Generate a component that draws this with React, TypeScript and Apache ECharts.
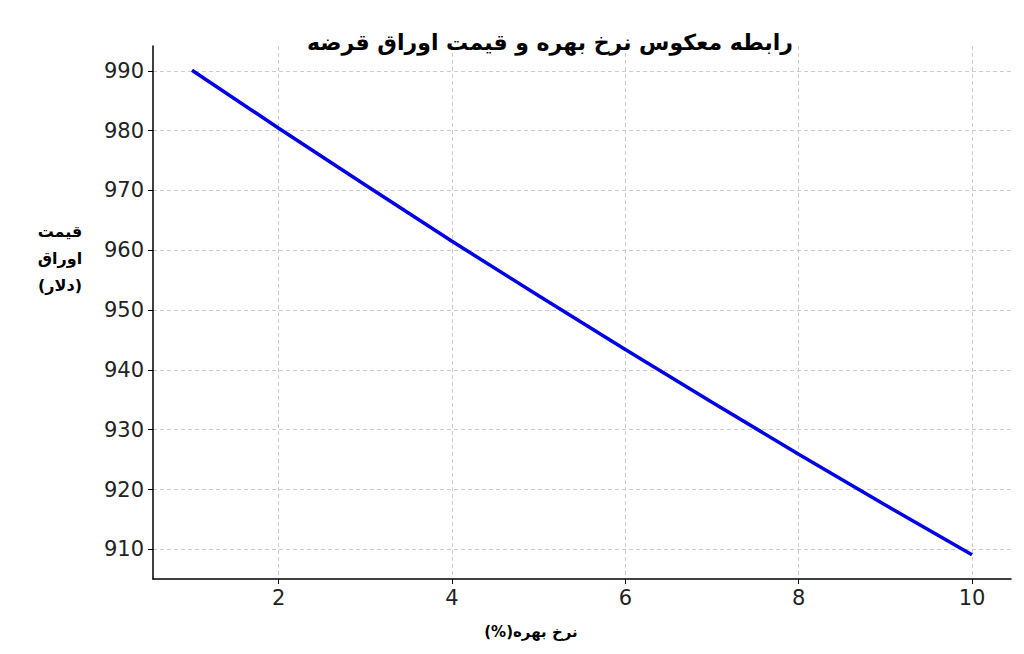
import React, { useEffect, useRef } from 'react';
import * as echarts from 'echarts';

// interest rate (%) and bond price (dollars)
const rates = [1, 2, 3, 4, 5, 6, 7, 8, 9, 10];
const prices = [990.1, 980.4, 970.9, 961.5, 952.4, 943.4, 934.6, 925.9, 917.4, 909.1];
const xTicks = [2, 4, 6, 8, 10];
const yTicks = [910, 920, 930, 940, 950, 960, 970, 980, 990];

const titleText = 'رابطه معکوس نرخ بهره و قیمت اوراق قرضه';
const xName = '(%)نرخ بهره';
const yName = 'قیمت\nاوراق\n(دلار)';

const App: React.FC = () => {
  const chartRef = useRef<HTMLDivElement>(null);

  useEffect(() => {
    if (!chartRef.current) return;
    const chart = echarts.init(chartRef.current, undefined, { renderer: 'svg' });

    const gridLine = { show: true, lineStyle: { color: '#cccccc', type: [4, 3] as number[], width: 1 } };

    const option: echarts.EChartsOption = {
      animation: false,
      backgroundColor: '#ffffff',
      textStyle: { fontFamily: 'DejaVu Sans' },
      title: {
        text: titleText,
        left: 545,
        top: 26,
        textAlign: 'center',
        textStyle: { fontSize: 22, fontWeight: 'bold', color: '#000', fontFamily: 'DejaVu Sans' },
      },
      grid: { left: 153, right: 13, top: 46, bottom: 75, containLabel: false },
      xAxis: {
        type: 'value',
        min: 0.55,
        max: 10.45,
        axisLine: { show: true, onZero: false, lineStyle: { color: '#000', width: 1.5 } },
        axisTick: { show: true, length: 5, customValues: xTicks, lineStyle: { color: '#000' } },
        axisLabel: { customValues: xTicks, fontSize: 21, color: '#222', margin: 8 },
        splitLine: gridLine,
      },
      yAxis: {
        type: 'value',
        min: 905.04,
        max: 994.15,
        axisLine: { show: true, onZero: false, lineStyle: { color: '#000', width: 1.5 } },
        axisTick: { show: true, length: 5, customValues: yTicks, lineStyle: { color: '#000' } },
        axisLabel: { customValues: yTicks, fontSize: 21, color: '#222', margin: 9 },
        splitLine: gridLine,
      },
      graphic: [
        {
          type: 'text',
          x: 60,
          y: 258,
          style: {
            text: yName,
            font: 'bold 16px "DejaVu Sans"',
            fill: '#000',
            align: 'center',
            verticalAlign: 'middle',
            lineHeight: 27,
          },
        },
        {
          type: 'text',
          x: 531,
          y: 632,
          style: {
            text: xName,
            font: 'bold 15px "DejaVu Sans"',
            fill: '#000',
            align: 'center',
            verticalAlign: 'middle',
          },
        },
      ],
      series: [
        {
          type: 'line',
          data: rates.map((r, i) => [r, prices[i]]),
          showSymbol: false,
          lineStyle: { color: '#0000e6', width: 3.5 },
        },
      ],
    };

    chart.setOption(option);
    return () => chart.dispose();
  }, []);

  return <div ref={chartRef} style={{ width: 1024, height: 654, margin: -8 }} />;
};

export default App;
